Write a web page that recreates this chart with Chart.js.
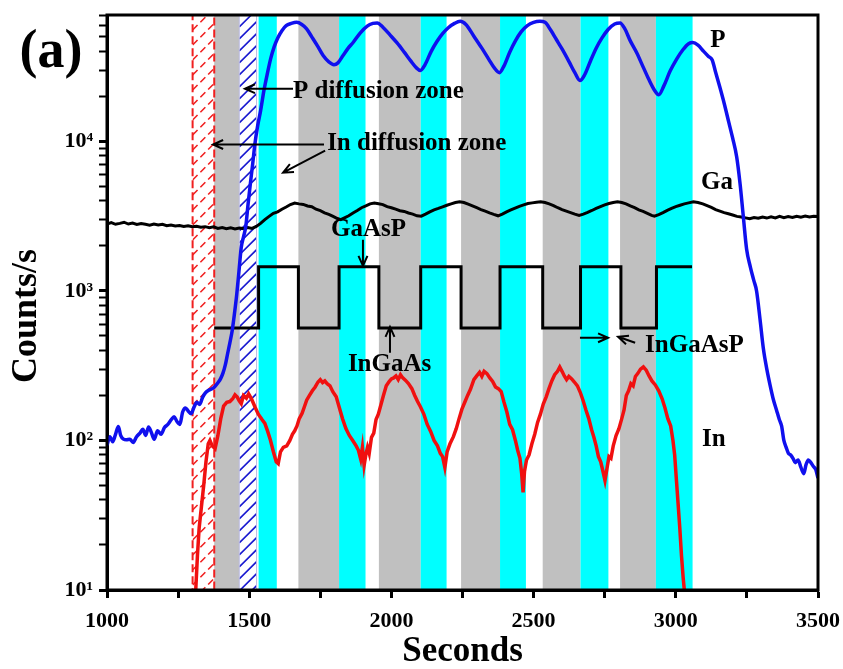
<!DOCTYPE html>
<html>
<head>
<meta charset="utf-8">
<script src="https://cdn.jsdelivr.net/npm/chart.js@4.4.1/dist/chart.umd.min.js"></script>
<style>
  html, body { margin: 0; padding: 0; background: #fff; }
</style>
</head>
<body>
<canvas id="sims" width="843" height="669"></canvas>
<script>
// SIMS depth profile: P, Ga and In counts vs sputter time
const timeP = [1000,1010,1020,1030,1040,1048,1058,1068,1080,1092,1104,1116,1126,1136,1146,1156,1166,1178,1190,1202,
  1214,1226,1236,1246,1256,1266,1276,1286,1296,1306,1316,1326,1336,1346,1356,1366,1378,1390,1400,1408,
  1416,1424,1432,1440,1448,1456,1464,1472,1480,1488,1496,1504,1512,1520,1530,1540,1552,1564,1576,1588,
  1600,1615,1630,1648,1667,1685,1702,1720,1740,1760,1780,1798,1812,1830,1848,1866,1890,1915,1935,1950,
  1970,1995,2020,2045,2068,2088,2102,2118,2140,2160,2180,2200,2222,2242,2262,2290,2318,2342,2362,2380,
  2396,2416,2436,2456,2478,2500,2522,2540,2560,2580,2600,2625,2645,2663,2680,2700,2720,2740,2762,2785,
  2804,2820,2840,2863,2885,2905,2925,2940,2958,2980,3003,3025,3045,3060,3078,3098,3115,3128,3140,3155,
  3170,3186,3200,3214,3226,3237,3249,3262,3274,3284,3296,3308,3320,3332,3343,3354,3364,3372,3380,3388,
  3396,3404,3412,3420,3430,3440,3450,3458,3466,3475,3484,3492,3500];
const countsP = [93,106,98,110,124,108,102,101,102,97,106,112,119,108,123,113,102,116,110,122,
  128,138,144,134,128,155,165,157,151,167,180,174,194,208,216,220,228,243,260,283,
  320,380,450,540,700,940,1350,1950,2300,2700,3800,5200,7000,9600,12800,16000,22000,28500,36000,43000,
  49000,55000,59500,61500,62500,60500,56500,50000,43500,37500,34000,32600,33500,37500,42000,46000,53000,59000,61500,62000,
  58000,51500,45500,39500,34500,31000,29800,32500,40000,46500,52500,57500,61500,63500,60500,50500,42000,35500,31000,28800,
  32000,39500,47000,54000,59500,62500,63500,62500,55500,48000,41500,34000,28800,25500,28000,34500,42000,49000,56000,61000,
  62000,57000,47000,39000,31500,26000,22000,20500,23500,29500,35500,41000,45000,45800,44000,40000,37000,35000,29000,23000,
  18000,13500,10500,7900,5200,3200,1900,1450,1180,1000,650,410,300,232,188,160,138,125,100,90,
  82,80,76,71,74,66,60,69,74,71,67,64,56];

const timeGa = [1000,1015,1030,1045,1060,1075,1090,1105,1120,1135,1150,1165,1180,1195,1210,1225,1240,1255,1270,1285,
  1300,1315,1330,1345,1360,1375,1390,1405,1420,1435,1450,1465,1480,1495,1510,1525,1540,1555,1570,1585,
  1600,1615,1630,1645,1660,1675,1690,1705,1720,1735,1750,1765,1780,1795,1810,1822,1835,1850,1865,1880,
  1895,1910,1925,1940,1955,1970,1985,2000,2015,2030,2045,2060,2075,2090,2105,2120,2135,2150,2165,2180,
  2195,2210,2225,2240,2255,2270,2285,2300,2315,2330,2345,2360,2375,2390,2405,2420,2435,2450,2465,2480,
  2495,2510,2525,2540,2555,2570,2585,2600,2615,2630,2645,2660,2675,2690,2705,2720,2735,2750,2765,2780,
  2795,2810,2825,2840,2855,2870,2885,2900,2915,2925,2940,2955,2970,2985,3000,3015,3030,3045,3062,3078,
  3095,3110,3125,3140,3155,3170,3185,3200,3215,3230,3245,3260,3275,3290,3305,3320,3335,3350,3365,3380,
  3395,3410,3425,3440,3455,3470,3485,3500];
const countsGa = [2800,2860,2790,2830,2880,2800,2840,2780,2820,2790,2750,2800,2760,2790,2730,2760,2720,2740,2700,2730,
  2690,2710,2670,2690,2650,2680,2620,2650,2610,2640,2600,2630,2610,2650,2620,2700,2830,3000,3150,3300,
  3380,3520,3640,3780,3870,3820,3790,3700,3660,3520,3440,3330,3250,3150,3050,3000,3080,3180,3320,3450,
  3600,3700,3820,3870,3830,3780,3660,3600,3520,3440,3400,3320,3260,3180,3160,3260,3380,3480,3560,3650,
  3740,3820,3900,3940,3900,3800,3700,3600,3500,3420,3330,3250,3180,3260,3380,3480,3580,3680,3760,3840,
  3880,3920,3940,3900,3820,3720,3600,3500,3420,3340,3260,3200,3260,3350,3450,3560,3660,3760,3840,3900,
  3940,3900,3820,3700,3600,3480,3400,3300,3200,3160,3240,3340,3460,3560,3660,3740,3820,3880,3940,3900,
  3820,3720,3620,3500,3420,3340,3280,3220,3150,3120,3080,3040,3100,3060,3120,3070,3130,3080,3150,3090,
  3140,3100,3160,3110,3170,3120,3160,3150];

const timeIn = [1312,1318,1324,1332,1340,1348,1356,1362,1370,1380,1390,1400,1410,1421,1432,1442,1450,1458,1465,1472,
  1480,1490,1498,1508,1520,1532,1545,1555,1565,1575,1585,1595,1602,1610,1620,1632,1643,1652,1660,1668,
  1676,1686,1695,1702,1712,1722,1732,1742,1750,1758,1766,1774,1784,1794,1806,1816,1828,1840,1852,1864,
  1876,1884,1892,1898,1904,1910,1916,1922,1930,1938,1946,1954,1962,1972,1982,1992,2000,2008,2016,2024,
  2032,2040,2050,2060,2072,2082,2092,2102,2114,2126,2138,2150,2162,2172,2180,2188,2196,2206,2218,2228,
  2238,2248,2258,2268,2278,2290,2300,2310,2318,2326,2336,2346,2356,2366,2376,2386,2396,2406,2416,2426,
  2436,2444,2452,2458,2463,2468,2475,2484,2494,2504,2514,2524,2534,2544,2554,2564,2574,2584,2592,2600,
  2608,2616,2624,2634,2644,2654,2664,2674,2684,2694,2704,2712,2720,2728,2736,2744,2751,2758,2765,2772,
  2780,2790,2800,2810,2818,2826,2834,2842,2850,2858,2866,2876,2886,2896,2906,2916,2928,2940,2952,2962,
  2972,2982,2990,2996,3002,3008,3014,3020,3026,3030];
const countsIn = [10,17,26,36,50,72,95,100,92,88,108,140,170,180,182,190,202,195,184,176,
  200,192,205,190,168,150,138,130,115,100,84,72,70,84,90,92,100,110,116,125,
  140,152,170,186,200,215,228,246,255,244,250,240,232,212,196,168,140,120,108,100,
  92,86,75,90,68,80,90,82,105,112,138,150,170,200,232,248,258,262,270,255,
  275,262,252,240,222,200,182,168,150,128,115,100,92,82,78,66,84,95,106,120,
  140,162,180,200,220,255,270,285,268,290,280,262,248,228,222,212,180,155,128,118,
  100,86,76,60,45,62,74,80,95,110,132,150,175,195,222,250,275,290,310,290,
  270,255,268,258,245,232,210,185,160,140,118,105,92,78,72,62,54,65,78,76,
  92,108,120,140,160,200,215,240,232,268,280,300,310,295,270,250,235,215,190,165,
  140,125,100,80,55,38,26,17,12,10];

// layer sketch: composition steps (GaAsP high / InGaAs low)
const stepTimes = [1377,1533,1673,1816,1956,2103,2245,2382,2532,2665,2807,2932,3057];
const stepLevels = [565,1450,565,1450,565,1450,565,1450,565,1450,565,1450,1450];

// shaded layers (seconds)
const grayBands = [[1377,1465],[1673,1816],[1956,2103],[2245,2382],[2532,2665],[2804,2930]];
const cyanBands = [[1533,1597],[1816,1909],[2103,2194],[2382,2473],[2665,2763],[2930,3059]];
const inZone = [1301, 1377];
const pZone = [1465, 1526];

const xTicks = [1000,1250,1500,1750,2000,2250,2500,2750,3000,3250,3500];
const yTicks = [10,20,30,40,50,60,70,80,90,100,200,300,400,500,600,700,800,900,
  1000,2000,3000,4000,5000,6000,7000,8000,9000,10000,20000,30000,40000,50000,60000,70000];
const yTickLabels = {10: '10\u00B9', 100: '10\u00B2', 1000: '10\u00B3', 10000: '10\u2074'};

// annotations in data units (seconds, counts/s)
const notes = [
  {text: 'P', x: 3148, y: 47300, align: 'center'},
  {text: 'Ga', x: 3145, y: 5300, align: 'center'},
  {text: 'In', x: 3134, y: 102, align: 'center'},
  {text: 'P diffusion zone', x: 1654, y: 21500, align: 'left'},
  {text: 'In diffusion zone', x: 1774, y: 9670, align: 'left'},
  {text: 'GaAsP', x: 1788, y: 2570, align: 'left'},
  {text: 'InGaAs', x: 1847, y: 321, align: 'left'},
  {text: 'InGaAsP', x: 2892, y: 430, align: 'left'}
];
const arrows = [
  {from: [1654, 22500], to: [1485, 22500]},
  {from: [1763, 9530], to: [1373, 9530]},
  {from: [1767, 8670], to: [1619, 6180]},
  {from: [1900, 2200], to: [1900, 1470]},
  {from: [1995, 386], to: [1995, 575]},
  {from: [2663, 486], to: [2762, 486]},
  {from: [2857, 450], to: [2797, 494]}
];

const serif = '"Liberation Serif", "Times New Roman", Times, serif';

function toPoints(xs, ys) {
    return xs.map((x, i) => ({x: x, y: ys[i]}));
}

function hatch(ctx, area, x0, x1, color, dash, step) {
    ctx.save();
    ctx.beginPath();
    ctx.rect(x0, area.top, x1 - x0, area.bottom - area.top);
    ctx.clip();
    ctx.strokeStyle = color;
    ctx.lineWidth = 1.6;
    ctx.setLineDash(dash);
    const w = x1 - x0;
    ctx.beginPath();
    for (let y = area.top - w; y < area.bottom + w; y += step) {
        ctx.moveTo(x0, y + w);
        ctx.lineTo(x1, y);
    }
    ctx.stroke();
    ctx.restore();
}

function arrow(ctx, x0, y0, x1, y1) {
    const ang = Math.atan2(y1 - y0, x1 - x0);
    const h = 11, s = 0.42;
    ctx.beginPath();
    ctx.moveTo(x0, y0);
    ctx.lineTo(x1, y1);
    ctx.moveTo(x1 - h * Math.cos(ang - s), y1 - h * Math.sin(ang - s));
    ctx.lineTo(x1, y1);
    ctx.lineTo(x1 - h * Math.cos(ang + s), y1 - h * Math.sin(ang + s));
    ctx.stroke();
}

const bandsPlugin = {
    id: 'bands',
    beforeDraw(chart) {
        const ctx = chart.ctx;
        ctx.save();
        ctx.fillStyle = '#fff';
        ctx.fillRect(0, 0, chart.width, chart.height);
        ctx.restore();
    },
    beforeDatasetsDraw(chart) {
        const {ctx, chartArea: a, scales: {x}} = chart;
        const fill = (b, color) => {
            const x0 = x.getPixelForValue(b[0]), x1 = x.getPixelForValue(b[1]);
            ctx.fillStyle = color;
            ctx.fillRect(x0, a.top, x1 - x0, a.bottom - a.top);
        };
        ctx.save();
        grayBands.forEach(b => fill(b, '#c0c0c0'));
        cyanBands.forEach(b => fill(b, '#00ffff'));

        const r0 = x.getPixelForValue(inZone[0]), r1 = x.getPixelForValue(inZone[1]);
        hatch(ctx, a, r0, r1, '#f02020', [7, 4], 15);
        ctx.strokeStyle = '#f02020';
        ctx.lineWidth = 2;
        ctx.setLineDash([8, 4]);
        ctx.strokeRect(r0, a.top, r1 - r0, a.bottom - a.top);
        ctx.setLineDash([]);

        const b0 = x.getPixelForValue(pZone[0]), b1 = x.getPixelForValue(pZone[1]);
        ctx.fillStyle = '#fff';
        ctx.fillRect(b0, a.top, b1 - b0, a.bottom - a.top);
        hatch(ctx, a, b0, b1, '#1a1ad0', [], 12);
        ctx.strokeStyle = '#b8b8e0';
        ctx.lineWidth = 1;
        ctx.strokeRect(b0, a.top, b1 - b0, a.bottom - a.top);
        ctx.restore();
    },
    afterDatasetsDraw(chart) {
        const {ctx, chartArea: a, scales: {x, y}} = chart;
        ctx.save();
        ctx.fillStyle = '#000';
        ctx.strokeStyle = '#000';
        ctx.lineWidth = 2;
        ctx.font = 'bold 25px ' + serif;
        ctx.textBaseline = 'middle';
        notes.forEach(n => {
            ctx.textAlign = n.align;
            ctx.fillText(n.text, x.getPixelForValue(n.x), y.getPixelForValue(n.y));
        });
        arrows.forEach(ar => {
            arrow(ctx, x.getPixelForValue(ar.from[0]), y.getPixelForValue(ar.from[1]),
                x.getPixelForValue(ar.to[0]), y.getPixelForValue(ar.to[1]));
        });
        // plot frame
        ctx.lineWidth = 3;
        ctx.strokeRect(a.left, a.top, a.right - a.left, a.bottom - a.top);
        // panel letter
        ctx.font = 'bold 54px ' + serif;
        ctx.textAlign = 'center';
        ctx.fillText('(a)', a.left - 56, a.top + 38);
        ctx.restore();
    }
};

new Chart(document.getElementById('sims'), {
    type: 'line',
    data: {
        datasets: [
            {
                label: 'P',
                data: toPoints(timeP, countsP),
                borderColor: '#1010ee',
                borderWidth: 3.5,
                pointRadius: 0,
                cubicInterpolationMode: 'monotone'
            },
            {
                label: 'In',
                data: toPoints(timeIn, countsIn),
                borderColor: '#f01010',
                borderWidth: 3.5,
                pointRadius: 0,
                tension: 0
            },
            {
                label: 'Ga',
                data: toPoints(timeGa, countsGa),
                borderColor: '#000',
                borderWidth: 3,
                pointRadius: 0,
                tension: 0
            },
            {
                label: 'layers',
                data: toPoints(stepTimes, stepLevels),
                borderColor: '#000',
                borderWidth: 3,
                pointRadius: 0,
                stepped: 'before'
            }
        ]
    },
    options: {
        responsive: false,
        animation: false,
        devicePixelRatio: 1,
        layout: { padding: { left: 0, right: 25, top: 15, bottom: 0 } },
        plugins: {
            legend: { display: false },
            tooltip: { enabled: false }
        },
        scales: {
            x: {
                type: 'linear',
                min: 1000,
                max: 3500,
                afterBuildTicks: scale => { scale.ticks = xTicks.map(v => ({value: v})); },
                afterFit: scale => {
                    scale.height = 79;
                    scale.paddingLeft = 0;
                    scale.paddingRight = 0;
                },
                ticks: {
                    autoSkip: false,
                    maxRotation: 0,
                    padding: 10,
                    color: '#000',
                    font: { family: serif, size: 22, weight: 'bold' },
                    callback: v => (v % 500 === 0 ? String(v) : '')
                },
                grid: { drawOnChartArea: false, tickLength: 8, tickWidth: 3, color: '#000' },
                border: { display: true, color: '#000', width: 3 },
                title: {
                    display: true,
                    text: 'Seconds',
                    color: '#000',
                    font: { family: serif, size: 35, weight: 'bold', lineHeight: 1 },
                    padding: { top: 0, bottom: 0 }
                }
            },
            y: {
                type: 'logarithmic',
                min: 10,
                max: 70000,
                afterBuildTicks: scale => { scale.ticks = yTicks.map(v => ({value: v})); },
                afterFit: scale => {
                    scale.width = 107;
                    scale.paddingTop = 0;
                    scale.paddingBottom = 0;
                },
                ticks: {
                    autoSkip: false,
                    padding: 6,
                    color: '#000',
                    font: { family: serif, size: 22, weight: 'bold' },
                    callback: v => yTickLabels[v] || ''
                },
                grid: {
                    drawOnChartArea: false,
                    tickLength: 8,
                    color: '#000',
                    tickWidth: ctx => (yTickLabels[ctx.tick && ctx.tick.value] ? 3 : 2)
                },
                border: { display: true, color: '#000', width: 3 },
                title: {
                    display: true,
                    text: 'Counts/s   ',
                    color: '#000',
                    font: { family: serif, size: 36, weight: 'bold', lineHeight: 1 },
                    padding: { top: 9, bottom: 0 }
                }
            }
        }
    },
    plugins: [bandsPlugin]
});
</script>
</body>
</html>
